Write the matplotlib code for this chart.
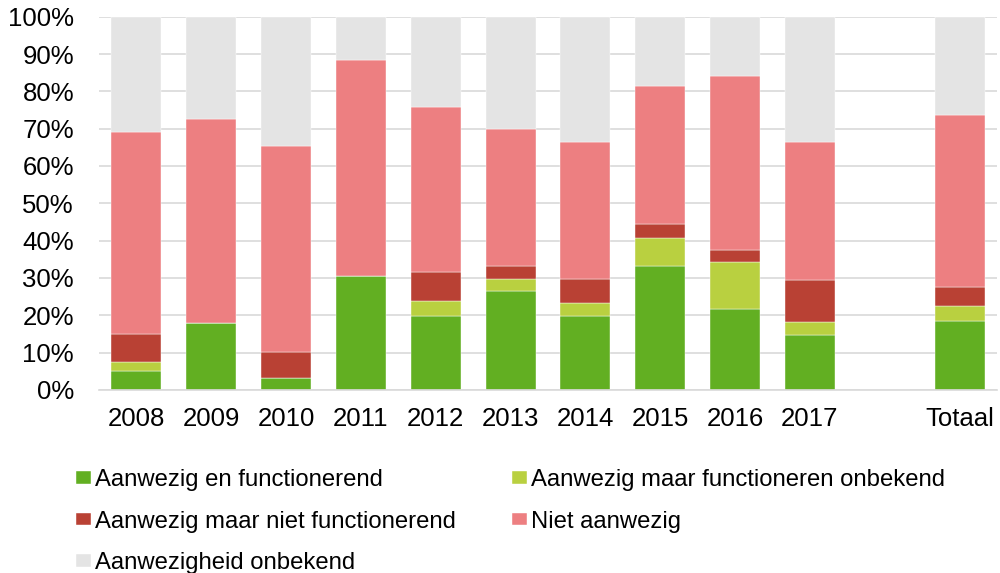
import matplotlib; matplotlib.use("Agg")
import matplotlib.pyplot as plt
import numpy as np

plt.rcParams["font.family"] = ["Liberation Sans", "DejaVu Sans"]

years = ["2008", "2009", "2010", "2011", "2012", "2013", "2014", "2015", "2016", "2017", "", "Totaal"]
labels = ["Aanwezig en functionerend", "Aanwezig maar functioneren onbekend",
          "Aanwezig maar niet functionerend", "Niet aanwezig", "Aanwezigheid onbekend"]
colors = ["#62AF22", "#B9D040", "#B94134", "#ED7F81", "#E4E4E4"]

# percentages per category (empty slot between 2017 and Totaal)
functionerend = [5.0, 17.9, 3.2, 30.6, 19.8, 26.5, 19.8, 33.2, 21.7, 14.6, 0, 18.6]
func_onbekend = [2.5, 0.0, 0.0, 0.0, 4.0, 3.3, 3.4, 7.4, 12.5, 3.7, 0, 3.9]
niet_function = [7.6, 0.0, 6.9, 0.0, 7.9, 3.4, 6.6, 3.8, 3.2, 11.1, 0, 5.2]
niet_aanwezig = [54.0, 54.8, 55.3, 57.8, 44.1, 36.6, 36.6, 36.9, 46.8, 37.0, 0, 46.0]
onbekend      = [30.9, 27.3, 34.6, 11.6, 24.2, 30.2, 33.6, 18.7, 15.8, 33.6, 0, 26.3]
series = [functionerend, func_onbekend, niet_function, niet_aanwezig, onbekend]

fig = plt.figure(figsize=(10, 5.73), dpi=100)
ax = fig.add_axes([0.099, 0.3194, 0.898, 0.6515])
x = np.arange(len(years))
bottom = np.zeros(len(years))
handles = []
for vals, lab, col in zip(series, labels, colors):
    v = np.array(vals)
    h = ax.bar(x, v, 0.67, bottom=bottom, color=col, label=lab, zorder=2,
               edgecolor="white", linewidth=0.3)
    handles.append(h)
    bottom += v

ax.set_xlim(-0.5, len(years) - 0.5)
ax.set_ylim(0, 100)
ax.set_yticks(np.arange(0, 101, 10))
ax.set_yticklabels([f"{t}%" for t in range(0, 101, 10)])
ax.set_xticks(x)
ax.set_xticklabels(years)
ax.tick_params(axis="both", length=0, labelsize=18.5, colors="black")
ax.tick_params(axis="y", pad=18)
ax.tick_params(axis="x", pad=12)
ax.yaxis.grid(True, color="#d9d9d9", linewidth=1.2, zorder=0)
ax.set_axisbelow(True)
for s in ["top", "right", "left"]:
    ax.spines[s].set_visible(False)
ax.spines["bottom"].set_color("#d9d9d9")
ax.spines["bottom"].set_linewidth(1.2)

order = [0, 2, 4, 1, 3]
fig.legend([handles[i] for i in order], [labels[i] for i in order], ncol=2,
           loc="upper left", bbox_to_anchor=(0.076, 0.182), frameon=False,
           fontsize=17.2, handlelength=0.63, handleheight=0.45, handletextpad=0.17,
           labelspacing=0.83, columnspacing=2.35, borderaxespad=0, borderpad=0)

fig.savefig("out.png", dpi=100)
